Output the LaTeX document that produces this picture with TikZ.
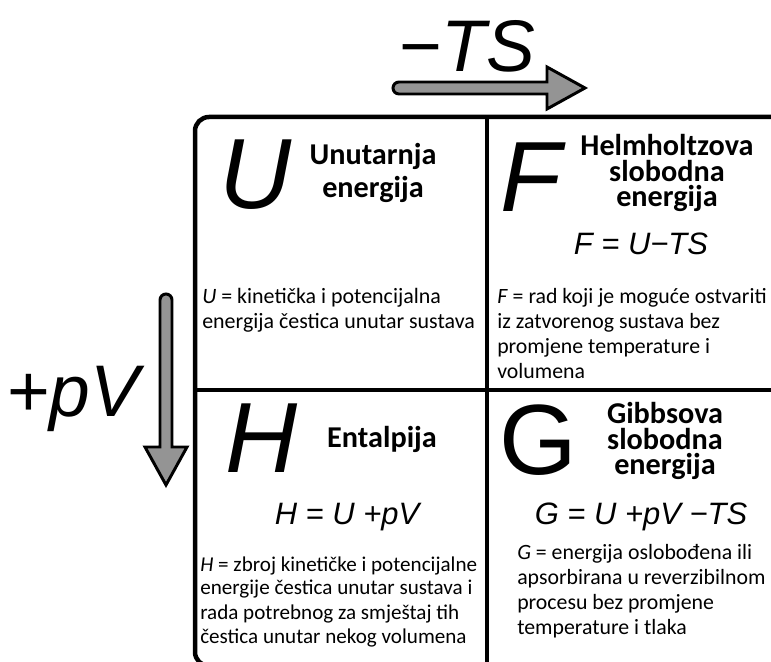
\documentclass[tikz,border=0pt]{standalone}
\usepackage{fontspec}
\setmainfont{Carlito}
\newfontfamily\helv{Liberation Sans}
\usetikzlibrary{positioning}

\tikzset{
  frame/.style={line width=3.2pt},
  bigarrow/.style={draw=black, fill=black!42, line width=2.1pt, line join=miter},
  bigletter/.style={font=\helv\itshape\fontsize{71}{71}\selectfont, anchor=base, inner sep=0pt},
  heading/.style={font=\bfseries\fontsize{21.5}{18.3}\selectfont, align=center, anchor=base, inner sep=0pt},
  formula/.style={font=\helv\itshape\fontsize{22}{22}\selectfont, anchor=base, inner sep=0pt},
  body/.style={font=\fontsize{15.5}{15.5}\selectfont, anchor=base west, inner sep=0pt},
  axislabel/.style={font=\helv\itshape\fontsize{52}{52}\selectfont, anchor=base, inner sep=0pt}
}

\begin{document}
\begin{tikzpicture}[x=0.025cm, y=-0.025cm]
  \useasboundingbox (0,0) rectangle (771,662);
  \fill[white] (0,0) rectangle (771,662);

  % okvir i podjela na cetiri polja
  \begin{scope}
    \clip (0,0) rectangle (771,662);
    \draw[frame, rounded corners=10pt] (195,117) rectangle (820,666);
    \draw[frame] (487,117) -- (487,666);
    \draw[frame] (195,390) -- (820,390);
  \end{scope}

  % strelice -TS i +pV
  \draw[bigarrow] (547,82) -- (547,67) -- (585,88) -- (547,109) -- (547,94)
    -- (399,94) arc[start angle=90, end angle=270, radius=6] -- cycle;
  \node[axislabel] (lblTS) at (467,72) {−TS};
  \draw[bigarrow] (160,447) -- (145,447) -- (166,485) -- (187,447) -- (172,447)
    -- (172,300) arc[start angle=0, end angle=-180, radius=6] -- cycle;
  \node[axislabel] (lblpV) at (73,417) {+pV};

  % U (sidro = osnovna linija zadnjeg retka)
  \node[bigletter] (bigU) at (256,209) {U};
  \node[heading, font=\bfseries\fontsize{21.5}{23.5}\selectfont] (headU) at (373,198) {Unutarnja\\energija};
  \def\y{0}
  \foreach \t [count=\i, remember=\y as \lasty (initially 279)] in
    {{\textit{U} = kinetička i potencijalna}, energija čestica unutar sustava} {
    \pgfmathsetmacro{\y}{\lasty + 25}
    \node[body, font=\fontsize{15.6}{15.6}\selectfont] (bodyU\i) at (202,\y) {\t};
  }

  % F
  \node[bigletter] (bigF) at (531,212) {F};
  \node[heading] (headF) at (667,207) {Helmholtzova\\slobodna\\energija};
  \node[formula] (formF) at (641,255) {F = U−TS};
  \def\y{0}
  \foreach \t [count=\i, remember=\y as \lasty (initially 279)] in
    {{\textit{F} = rad koji je moguće ostvariti}, iz zatvorenog sustava bez, promjene temperature i, volumena} {
    \pgfmathsetmacro{\y}{\lasty + 25}
    \node[body] (bodyF\i) at (497,\y) {\t};
  }

  % H
  \node[bigletter] (bigH) at (262,473) {H};
  \node[heading] (headH) at (382,448) {Entalpija};
  \node[formula] (formH) at (347,525) {H = U +pV};
  \def\y{0}
  \foreach \t [count=\i, remember=\y as \lasty (initially 547)] in
    {{\textit{H} = zbroj kinetičke i potencijalne}, energije čestica unutar sustava i,
     rada potrebnog za smještaj tih, čestica unutar nekog volumena} {
    \pgfmathsetmacro{\y}{\lasty + 24}
    \node[body, font=\fontsize{15}{15}\selectfont] (bodyH\i) at (200,\y) {\t};
  }

  % G
  \node[bigletter, font=\helv\fontsize{71}{71}\selectfont] (bigG) at (538,475) {G};
  \node[heading] (headG) at (665,475) {Gibbsova\\slobodna\\energija};
  \node[formula] (formG) at (641,525) {G = U +pV −TS};
  \def\y{0}
  \foreach \t [count=\i, remember=\y as \lasty (initially 534)] in
    {{\textit{G} = energija oslobođena ili}, apsorbirana u reverzibilnom, procesu bez promjene, temperature i tlaka} {
    \pgfmathsetmacro{\y}{\lasty + 25}
    \node[body] (bodyG\i) at (517,\y) {\t};
  }
\end{tikzpicture}
\end{document}
